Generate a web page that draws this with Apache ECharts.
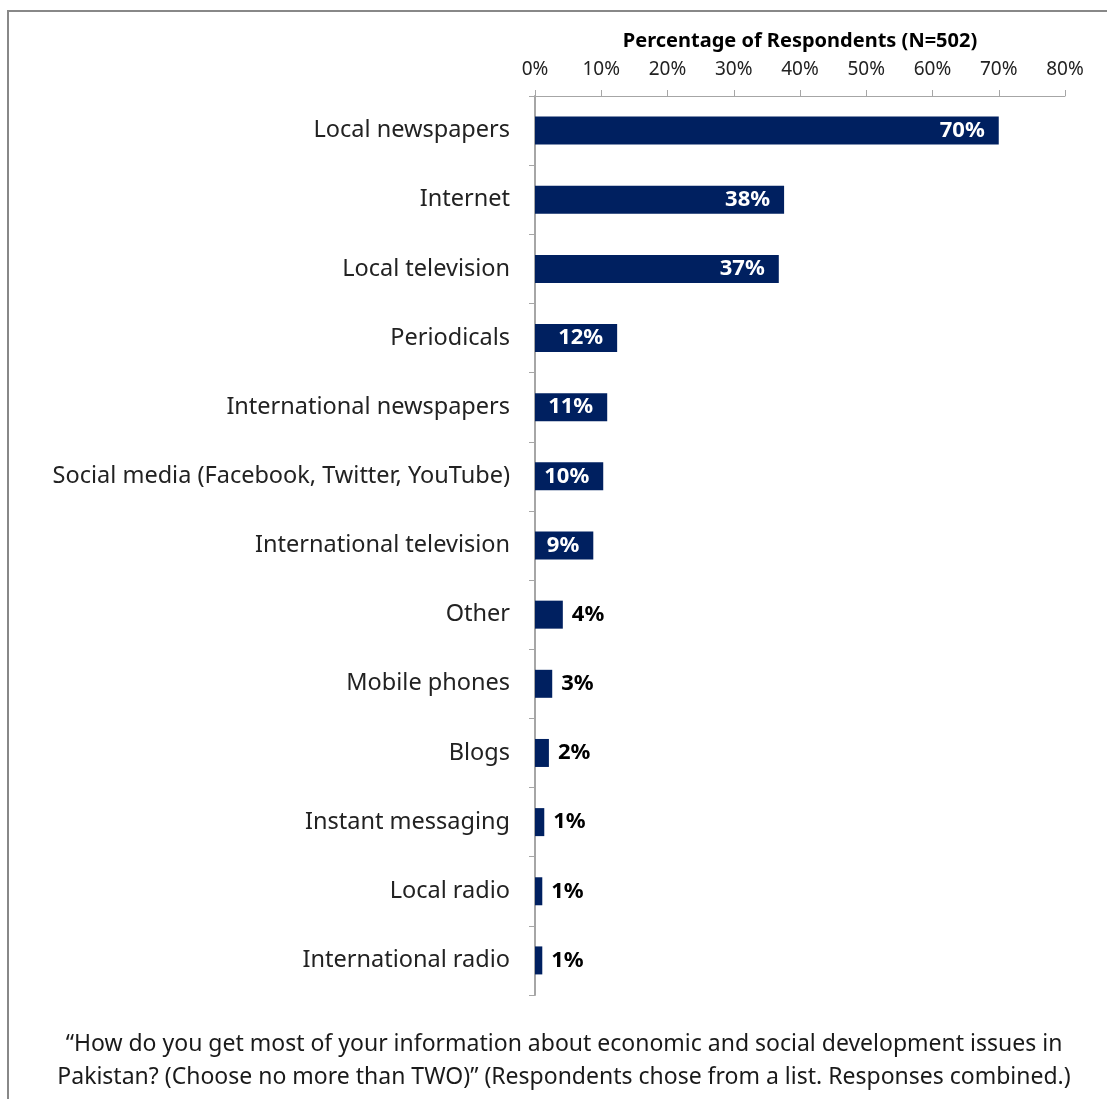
<!DOCTYPE html>
<html>
<head>
<meta charset="utf-8">
<script src="https://cdn.jsdelivr.net/npm/echarts@6/dist/echarts.min.js"></script>
<style>
html,body{margin:0;padding:0;background:#fff;}
#chart{width:1107px;height:1099px;}
</style>
</head>
<body>
<div id="chart"></div>
<script>
const categories = ["Local newspapers","Internet","Local television","Periodicals","International newspapers","Social media (Facebook, Twitter, YouTube)","International television","Other","Mobile phones","Blogs","Instant messaging","Local radio","International radio"];
const values = [70.0, 37.6, 36.8, 12.4, 10.9, 10.3, 8.8, 4.2, 2.6, 2.1, 1.4, 1.1, 1.1];
const valueLabels = ["70%","38%","37%","12%","11%","10%","9%","4%","3%","2%","1%","1%","1%"];
const tickValues = [0,10,20,30,40,50,60,70,80];
const axisTitle = "Percentage of Respondents (N=502)";
const footnoteLines = [
  "\u201cHow do you get most of your information about economic and social development issues in",
  "Pakistan? (Choose no more than TWO)\u201d (Respondents chose from a list. Responses combined.)"
];

const insideThreshold = 5;
const font = "'Noto Sans', 'Open Sans', sans-serif";

const chart = echarts.init(document.getElementById('chart'));
const data = values.map((v, i) => ({
  value: v,
  label: v > insideThreshold
    ? {position: 'insideRight', distance: 14, color: '#ffffff'}
    : {position: 'right', distance: 9, color: '#000000'}
}));

const footGraphics = footnoteLines.map((t, i) => ({
  type: 'text', x: 564, y: 1044 + i * 33,
  style: {text: t, font: "23px " + font, fill: '#1a1a1a', align: 'center', verticalAlign: 'middle'}
}));

chart.setOption({
  animation: false,
  backgroundColor: '#ffffff',
  graphic: [
    {type: 'polyline', shape: {points: [[8, 1099], [8, 11], [1107, 11]]}, style: {stroke: '#888888', lineWidth: 2, fill: null}}
  ].concat(footGraphics),
  grid: {left: 535, right: 42, top: 96, bottom: 104, containLabel: false},
  xAxis: {
    type: 'value', position: 'top', min: 0, max: 80, interval: 10,
    name: axisTitle, nameLocation: 'middle', nameGap: 45,
    nameTextStyle: {fontFamily: font, fontSize: 20, fontWeight: 'bold', color: '#000'},
    axisLine: {show: true, lineStyle: {color: '#a6a6a6', width: 1}},
    axisTick: {show: true, length: 6, lineStyle: {color: '#a6a6a6'}},
    axisLabel: {fontFamily: font, fontSize: 19, color: '#222', margin: 17, formatter: v => tickValues.includes(v) ? v + '%' : ''},
    splitLine: {show: false}
  },
  yAxis: {
    type: 'category', inverse: true, data: categories,
    axisLine: {show: true, lineStyle: {color: '#a6a6a6', width: 2}},
    axisTick: {show: true, length: 6, lineStyle: {color: '#a6a6a6'}},
    axisLabel: {fontFamily: font, fontSize: 23.5, color: '#222', margin: 25}
  },
  series: [{
    type: 'bar', data: data, barWidth: 28,
    itemStyle: {color: '#002060'},
    label: {show: true, fontFamily: font, fontSize: 22, fontWeight: 'bold',
      formatter: p => valueLabels[p.dataIndex]}
  }]
});
</script>
</body>
</html>
